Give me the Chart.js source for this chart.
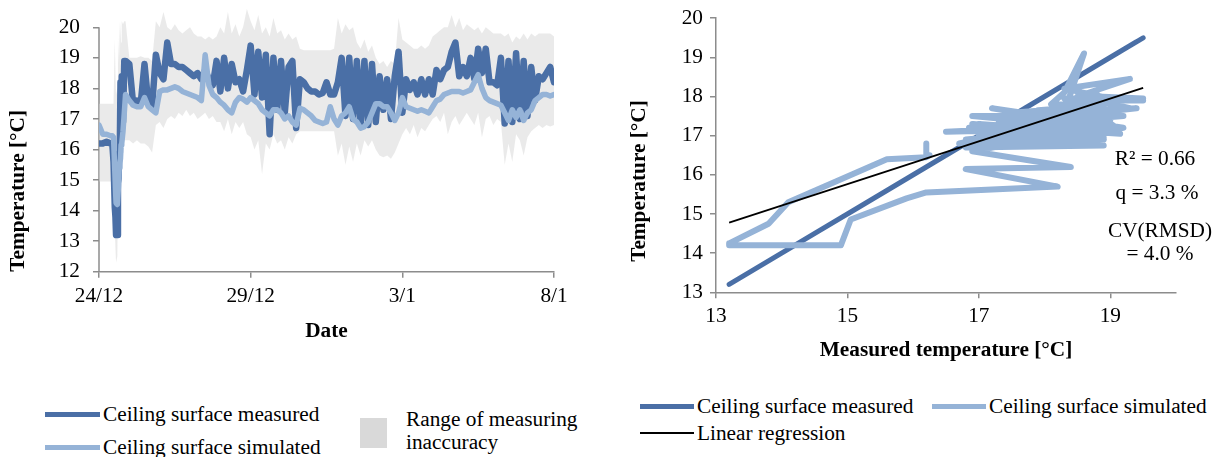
<!DOCTYPE html>
<html><head><meta charset="utf-8">
<script src="https://cdn.jsdelivr.net/npm/chart.js@4.4.1/dist/chart.umd.min.js"></script>
<style>
html,body{margin:0;padding:0;background:#fff;}
body{width:1215px;height:457px;position:relative;overflow:hidden;font-family:"Liberation Serif","Times New Roman",serif;color:#000;}
canvas{position:absolute;top:0;}
#left{left:0;}
#right{left:600px;}
.t{position:absolute;font-size:21.3px;line-height:22px;white-space:nowrap;}
.sw{position:absolute;}
.c{text-align:center;width:140px;}
.rot{position:absolute;width:220px;height:26px;line-height:26px;text-align:center;font-weight:bold;font-size:21.3px;transform:rotate(-90deg);white-space:nowrap;}
</style>
</head><body>
<canvas id="left" width="600" height="360"></canvas>
<canvas id="right" width="615" height="375"></canvas>

<!-- left legend -->
<div class="sw" style="left:45px;top:411.5px;width:55px;height:5px;background:#4a6fa6"></div>
<div class="t" style="left:103px;top:403px">Ceiling surface measured</div>
<div class="sw" style="left:45px;top:444.5px;width:55px;height:5px;background:#95b3d7"></div>
<div class="t" style="left:103px;top:436px">Ceiling surface simulated</div>
<div class="sw" style="left:360px;top:418px;width:27px;height:30px;background:#d9d9d9"></div>
<div class="t" style="left:406px;top:408px">Range of measuring</div>
<div class="t" style="left:406px;top:431px">inaccuracy</div>

<!-- right legend -->
<div class="sw" style="left:640px;top:403.5px;width:54px;height:5px;background:#4a6fa6"></div>
<div class="t" style="left:697px;top:395px">Ceiling surface measured</div>
<div class="sw" style="left:932px;top:403.5px;width:54px;height:5px;background:#95b3d7"></div>
<div class="t" style="left:989px;top:395px">Ceiling surface simulated</div>
<div class="sw" style="left:640px;top:431.5px;width:54px;height:2.5px;background:#000"></div>
<div class="t" style="left:697px;top:422px">Linear regression</div>

<!-- right chart statistics -->
<div class="t c" style="left:1085px;top:147px">R² = 0.66</div>
<div class="t c" style="left:1087px;top:181px">q = 3.3 %</div>
<div class="t c" style="left:1090px;top:219px">CV(RMSD)</div>
<div class="t c" style="left:1090px;top:242px">= 4.0 %</div>

<!-- right y title -->
<div class="rot" style="left:528px;top:168px">Temperature [°C]</div>

<script>
// ---- time axis (hours from 24/12 00:00) ----
const hours = [0,3,6,9,10.5,11.5,12.5,13,13.5,14.5,15,15.5,16,16.5,17,17.5,18,19,20,21,
24,27,30,33,36,39,42,45,48,51,54,57,60,63,66,69,72,75,78,81,84,87,90,93,96,99,102,105,
108,111,114,117,120,123,126,129,132,135,138,141,144,147,150,153,156,159,162,165,168,171,
174,177,180,183,186,189,192,195,198,201,204,207,210,213,216,219,222,225,228,231,234,237,
240,243,246,249,252,255,258,261,264,267,270,273,276,279,282,285,288,291,294,297,300,303,
306,309,312,315,318,321,324,327,330,333,336,339,342,345,348,351,354,357,360];

const dateTickDays = [0,5,10,15];
const dateTickLabels = ['24/12','29/12','3/1','8/1'];
const leftYTicks = [12,13,14,15,16,17,18,19,20];
const rightXTicks = [13,15,17,19];
const rightYTicks = [13,14,15,16,17,18,19,20];

// ---- Ceiling surface measured [°C] ----
const measured = [16.2,16.2,16.25,16.2,16.2,15.6,14.1,13.8,13.2,13.2,14.9,15.05,15.9,16.2,18.2,16.8,18.4,16.9,18.9,18.9,
18.8,17.5,17.6,17.5,18.8,17.5,17.4,19.1,
18.5,18.3,19.5,18.8,18.8,18.7,18.7,18.6,
18.5,18.4,18.5,18.3,18.6,18.3,18.1,18.9,
17.9,19.0,18.0,18.8,18.2,18.3,17.9,18.6,
19.4,17.8,19.2,17.7,19.1,16.5,19.0,17.3,
18.9,17.2,18.7,18.9,16.7,18.3,18.2,18.0,
17.9,17.9,17.8,17.85,18.2,17.8,17.8,18.2,
19.0,17.1,19.0,17.0,18.9,16.8,18.9,16.8,
18.8,16.9,18.4,17.3,18.3,17.0,18.4,19.2,
17.2,18.3,17.95,18.2,17.8,18.3,17.8,18.3,
17.8,18.6,18.3,18.6,18.7,19.2,19.5,18.4,
18.7,18.4,19.0,18.3,19.3,18.5,19.3,18.2,
18.2,18.1,19.0,16.85,18.9,16.9,19.15,17.0,
18.9,17.1,18.7,17.6,18.4,18.3,18.5,18.7,18.2];

// ---- Ceiling surface simulated [°C] ----
const simulated = [16.8,16.5,16.5,16.45,16.45,16.4,15.3,14.75,14.25,14.2,14.2,14.86,15.4,15.55,15.7,16.15,16.2,16.6,17.2,17.8,
17.6,17.45,17.4,17.4,17.7,17.4,17.3,17.2,
17.9,17.95,17.95,18.0,18.05,18.0,17.9,17.85,
17.8,17.75,17.7,17.6,19.1,18.1,17.8,17.7,
17.55,17.45,17.3,17.2,17.55,17.7,17.65,17.55,
17.7,17.6,17.5,17.3,17.2,17.1,17.3,17.3,
17.2,17.0,17.1,16.9,16.8,17.35,17.3,17.2,
17.1,16.95,16.9,16.85,16.9,17.4,17.0,16.8,
17.1,17.2,17.4,17.0,16.9,16.7,16.75,16.9,
17.2,17.5,17.5,17.4,17.4,17.2,16.95,17.2,
17.7,17.4,17.35,17.3,17.25,17.3,17.25,17.2,
17.4,17.6,17.65,17.8,17.85,17.9,17.9,17.9,
17.85,17.9,17.95,18.2,18.45,18.0,17.7,17.6,
17.55,17.5,17.45,17.2,16.95,17.3,17.05,17.3,
16.95,17.2,17.3,17.6,17.7,17.8,17.8,17.75,17.8];

// ---- Range of measuring inaccuracy: upper / lower bound [°C] ----
const bandUpper = [17.5,17.5,17.5,17.5,17.5,17.5,19.6,18.5,17.8,18.0,19.6,18.8,20.2,19.0,20.2,19.5,20.2,20.1,20.2,20.2,
19.0,19.0,19.0,19.05,19.0,19.0,18.9,20.2,
20.0,20.5,20.0,19.9,20.1,19.9,19.8,19.9,
20.0,19.8,19.7,19.7,19.6,19.7,19.6,19.7,
20.0,19.8,20.5,19.8,20.1,19.7,20.0,20.6,
20.2,19.9,20.4,19.8,20.0,19.7,20.3,19.8,
19.9,19.6,19.8,19.6,19.7,19.3,19.25,19.25,
19.25,19.25,19.25,19.25,19.25,19.25,19.3,20.3,
19.8,20.1,19.9,20.0,19.5,19.3,19.6,19.2,
19.4,19.0,18.8,18.9,18.7,18.9,18.8,20.3,
19.6,19.5,19.4,19.3,19.3,19.4,19.3,19.4,
19.7,19.8,19.9,20.0,20.0,20.4,20.0,20.3,
19.9,20.1,20.0,19.9,20.0,19.8,20.0,19.9,
19.8,19.8,19.8,19.7,19.8,19.5,19.7,19.6,
19.8,19.6,19.8,19.7,19.8,19.8,19.8,19.8,19.7];
const bandLower = [14.95,14.95,14.95,14.95,14.95,14.9,13.5,12.8,12.3,12.5,14.5,15.5,15.8,16.0,16.2,16.0,16.3,16.3,16.3,16.3,
16.3,16.2,16.3,16.2,16.2,16.1,15.9,16.8,
16.9,16.7,17.0,17.1,17.0,17.2,17.1,17.3,
17.1,17.2,17.0,17.1,17.2,17.0,17.1,16.9,
16.9,16.6,17.0,16.5,16.9,16.7,16.9,16.5,
16.4,16.0,16.3,15.2,16.2,16.0,16.5,16.2,
16.3,16.0,16.4,16.2,16.5,16.6,16.6,16.6,
16.6,16.6,16.6,16.6,16.6,16.6,16.6,15.8,
16.2,15.5,16.1,15.6,16.2,15.8,16.3,16.1,
16.3,16.0,15.8,15.75,15.8,15.7,15.9,16.2,
16.5,16.7,16.5,16.8,16.4,16.7,16.6,16.8,
17.0,17.1,16.9,17.2,16.5,16.9,17.1,16.8,
17.0,17.2,17.0,16.8,17.2,16.4,17.0,17.1,
16.8,17.0,16.9,15.5,16.2,15.6,16.5,16.3,
15.8,16.4,16.6,16.7,16.8,16.7,16.8,16.75,16.8];

// ---- linear regression ----
const regX = [13.2, 19.5];
const regY = [14.78, 18.22];

// ---- styling ----
const DARK = '#4a6fa6';
const LIGHT = '#95b3d7';
const BAND = 'rgba(214,214,214,0.5)';
const AXIS = '#8c8c8c';
const FONT = '"Liberation Serif", "Times New Roman", serif';

Chart.defaults.font.family = FONT;
Chart.defaults.color = '#000';

const timePts = arr => arr.map((v, i) => ({x: hours[i] / 24, y: v}));

const yAxisLine = {
  id: 'yAxisLine',
  beforeDatasetsDraw(chart) {
    const {ctx, scales: {x, y}} = chart;
    ctx.save();
    ctx.strokeStyle = AXIS;
    ctx.lineWidth = 1.5;
    ctx.beginPath();
    ctx.moveTo(x.left, y.getPixelForValue(leftYTicks[0]));
    ctx.lineTo(x.left, y.getPixelForValue(leftYTicks[leftYTicks.length - 1]));
    ctx.stroke();
    ctx.restore();
  }
};

const lineStyle = {pointRadius: 0, tension: 0, borderJoinStyle: 'round', borderCapStyle: 'round'};

new Chart(document.getElementById('left'), {
  type: 'line',
  data: {datasets: [
    Object.assign({label: 'Ceiling surface simulated', data: timePts(simulated), borderColor: LIGHT, borderWidth: 5.5, fill: false, order: 0}, lineStyle),
    Object.assign({label: 'Ceiling surface measured', data: timePts(measured), borderColor: DARK, borderWidth: 6.5, fill: false, order: 1}, lineStyle),
    {label: 'Range of measuring inaccuracy', data: timePts(bandUpper), borderWidth: 0, borderColor: 'rgba(0,0,0,0)', backgroundColor: BAND, fill: '+1', pointRadius: 0, tension: 0, order: 2},
    {label: 'Range lower', data: timePts(bandLower), borderWidth: 0, borderColor: 'rgba(0,0,0,0)', fill: false, pointRadius: 0, tension: 0, order: 3}
  ]},
  options: {
    responsive: false, animation: false, devicePixelRatio: 1,
    layout: {padding: {left: 0, top: 5.9, right: 46, bottom: 0}},
    plugins: {legend: {display: false}, tooltip: {enabled: false}},
    scales: {
      x: {
        type: 'linear', min: 0, max: 15,
        afterBuildTicks: s => { s.ticks = dateTickDays.map(v => ({value: v})); },
        afterFit: s => { s.height = 88.3; s.paddingLeft = 0; s.paddingRight = 0; },
        ticks: {callback: v => dateTickLabels[dateTickDays.indexOf(v)], font: {size: 21.3}, padding: 5.5, maxRotation: 0, autoSkip: false},
        grid: {drawOnChartArea: false, drawTicks: true, tickLength: 6, color: AXIS, lineWidth: 1.5},
        border: {color: AXIS, width: 1.5},
        title: {display: true, text: 'Date', font: {size: 21.3, weight: 'bold'}, padding: {top: 0, bottom: 16}}
      },
      y: {
        min: 12, max: 20.7,
        afterBuildTicks: s => { s.ticks = leftYTicks.map(v => ({value: v})); },
        afterFit: s => { s.width = 99; s.paddingTop = 0; s.paddingBottom = 0; },
        ticks: {font: {size: 21.3}, padding: 13},
        grid: {drawOnChartArea: false, drawTicks: true, tickLength: 6, color: AXIS, lineWidth: 1.5},
        border: {display: false},
        title: {display: true, text: 'Temperature [°C]', align: 'start', font: {size: 21.3, weight: 'bold'}, padding: {top: 6.2, bottom: 0}}
      }
    }
  },
  plugins: [yAxisLine]
});

new Chart(document.getElementById('right'), {
  type: 'scatter',
  data: {datasets: [
    {label: 'Linear regression', data: regX.map((x, i) => ({x: x, y: regY[i]})), showLine: true, borderColor: '#000', borderWidth: 1.8, pointRadius: 0, order: 0},
    Object.assign({label: 'Ceiling surface simulated', data: measured.map((m, i) => ({x: m, y: simulated[i]})), showLine: true, borderColor: LIGHT, borderWidth: 6, order: 1}, lineStyle),
    Object.assign({label: 'Ceiling surface measured', data: measured.map(m => ({x: m, y: m})), showLine: true, borderColor: DARK, borderWidth: 5, order: 2}, lineStyle)
  ]},
  options: {
    responsive: false, animation: false, devicePixelRatio: 1,
    layout: {padding: {left: 0, top: 18.2, right: 39, bottom: 0}},
    plugins: {legend: {display: false}, tooltip: {enabled: false}},
    scales: {
      x: {
        type: 'linear', min: 13, max: 20,
        afterBuildTicks: s => { s.ticks = rightXTicks.map(v => ({value: v})); },
        afterFit: s => { s.height = 82.7; s.paddingLeft = 0; s.paddingRight = 0; },
        ticks: {font: {size: 21.3}, padding: 5.5, maxRotation: 0, autoSkip: false},
        grid: {drawOnChartArea: false, drawTicks: true, tickLength: 6, color: AXIS, lineWidth: 1.5},
        border: {color: AXIS, width: 1.5},
        title: {display: true, text: 'Measured temperature [°C]', font: {size: 21.3, weight: 'bold'}, padding: {top: 0, bottom: 12}}
      },
      y: {
        min: 13, max: 20,
        afterBuildTicks: s => { s.ticks = rightYTicks.map(v => ({value: v})); },
        afterFit: s => { s.width = 116; s.paddingTop = 0; s.paddingBottom = 0; },
        ticks: {font: {size: 21.3}, padding: 7},
        grid: {drawOnChartArea: false, drawTicks: true, tickLength: 6, color: AXIS, lineWidth: 1.5},
        border: {color: AXIS, width: 1.5},
        title: {display: false}
      }
    }
  }
});
</script>
</body></html>
